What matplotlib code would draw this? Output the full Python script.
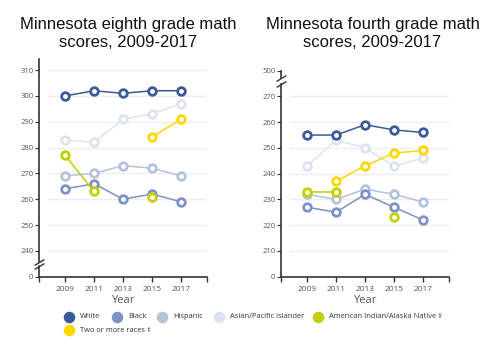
import numpy as np
import matplotlib
matplotlib.use("Agg")
import matplotlib.pyplot as plt
from matplotlib.lines import Line2D

nan = np.nan
years = [2009, 2011, 2013, 2015, 2017]
groups = ["White", "Black", "Hispanic", "Asian/Pacific Islander",
          "American Indian/Alaska Native \u2021", "Two or more races \u2021"]
colors = ["#3b5a9a", "#7d92c2", "#b4c2db", "#dce2ee", "#c2cf00", "#ffd700"]

# eighth grade
g8_white = [300, 302, 301, 302, 302]
g8_black = [264, 266, 260, 262, 259]
g8_hisp = [269, 270, 273, 272, 269]
g8_asian = [283, 282, 291, 293, 297]
g8_amind = [277, 263, nan, 261, nan]
g8_multi = [nan, nan, nan, 284, 291]

# fourth grade
g4_white = [255, 255, 259, 257, 256]
g4_black = [227, 225, 232, 227, 222]
g4_hisp = [232, 230, 234, 232, 229]
g4_asian = [243, 253, 250, 243, 246]
g4_amind = [233, 233, nan, 223, nan]
g4_multi = [nan, 237, 243, 248, 249]

# axis ticks (positions on the plotted scale, with labels; the bottom/top are broken)
g8_ticks = [230, 240, 250, 260, 270, 280, 290, 300, 310]
g8_labels = ["0", "240", "250", "260", "270", "280", "290", "300", "310"]
g4_ticks = [200, 210, 220, 230, 240, 250, 260, 270, 280]
g4_labels = ["0", "210", "220", "230", "240", "250", "260", "270", "500"]

fig = plt.figure(figsize=(5, 3.56), dpi=100)
small = ["Open Sans", "DejaVu Sans"]
axcol = "#333333"


def draw_panel(ax, series, ticks, labels, ylim, gridticks, breaks, title, tx):
    # draw order: light series first
    order = [3, 2, 1, 0, 4, 5]
    for i in order:
        vals = np.array(series[i], dtype=float)
        ax.plot(years, vals, color=colors[i], lw=1.1, marker="o", ms=5.5,
                mfc="white", mec=colors[i], mew=2.0, zorder=3 + (i in (0, 4, 5)))
    ax.set_xlim(2007.2, 2018.8)
    ax.set_ylim(*ylim)
    ax.hlines(gridticks, 2007.75, 2018.8, color="#eeeeee", lw=1, zorder=1)
    ax.set_yticks(ticks)
    ax.set_yticklabels(labels)
    ax.set_xticks(years)
    ax.set_xticks([2007.2, 2018.8], minor=True)
    ax.tick_params(axis="x", which="both", direction="out", length=3.5,
                   width=1, color=axcol, labelsize=6, labelcolor="#555555", pad=3)
    ax.tick_params(axis="y", direction="out", length=3, width=0.8, color=axcol,
                   labelsize=5.5, labelcolor="#555555", pad=1)
    for lab in ax.get_xticklabels() + ax.get_yticklabels():
        lab.set_family(small)
    for s in ["top", "right", "left"]:
        ax.spines[s].set_visible(False)
    ax.spines["bottom"].set_color(axcol)
    ax.spines["bottom"].set_linewidth(1.2)
    # broken y axis line
    yt = ax.get_yaxis_transform()
    lo, hi = breaks
    ax.plot([0, 0], [ylim[0], lo], color=axcol, lw=1.2, transform=yt, clip_on=False)
    ax.plot([0, 0], [hi, ylim[1]], color=axcol, lw=1.2, transform=yt, clip_on=False)
    ax.plot([0, 0], [lo, hi], transform=yt, ls="none", marker=[(-1, -0.6), (1, 0.6)],
            ms=7, mew=1, color=axcol, clip_on=False)
    ax.set_xlabel("Year", fontsize=8, color="#555555", family=small, labelpad=2)
    fig.text(tx, 0.905, title, ha="center", va="center", fontsize=12,
             family="Liberation Sans", color="#111111", linespacing=1.25)


ax1 = fig.add_axes([0.078, 0.2228, 0.336, 0.6115])
draw_panel(ax1, [g8_white, g8_black, g8_hisp, g8_asian, g8_amind, g8_multi],
           g8_ticks, g8_labels, (230, 314.3), g8_ticks[1:], (234.1, 235.5),
           "Minnesota eighth grade math\nscores, 2009-2017", 0.256)

ax2 = fig.add_axes([0.562, 0.2228, 0.336, 0.5787])
draw_panel(ax2, [g4_white, g4_black, g4_hisp, g4_asian, g4_amind, g4_multi],
           g4_ticks, g4_labels, (200, 280), g4_ticks[1:-1], (274.7, 277.3),
           "Minnesota fourth grade math\nscores, 2009-2017", 0.745)

# legend (flow layout)
leg_x = [69, 117, 162, 219, 318, 69]
leg_y = [316.7, 316.7, 316.7, 316.7, 316.7, 330]
for i, g in enumerate(groups):
    fx = leg_x[i] / 500
    fy = 1 - leg_y[i] / 356
    fig.add_artist(Line2D([fx], [fy], marker="o", ms=7.3, color=colors[i],
                          ls="none", transform=fig.transFigure))
    fig.text(fx + 11 / 500, fy, g, ha="left", va="center", fontsize=5.4,
             family=small, color="#333333")

fig.savefig("out.png", dpi=100)
